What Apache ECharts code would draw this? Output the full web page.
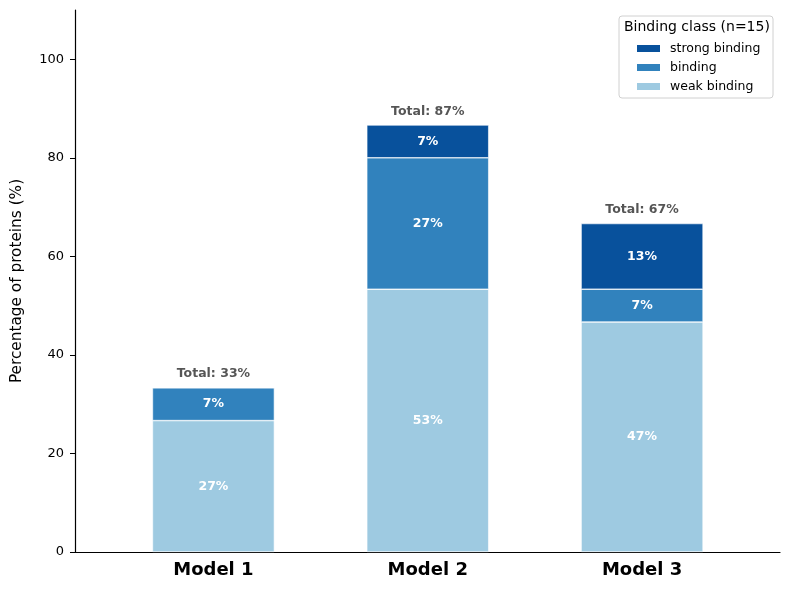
<!DOCTYPE html>
<html>
<head>
<meta charset="utf-8">
<script src="https://cdn.jsdelivr.net/npm/echarts@6/dist/echarts.min.js"></script>
<style>
  html, body { margin: 0; padding: 0; background: #fff; }
  #chart { width: 790px; height: 590px; }
</style>
</head>
<body>
<div id="chart"></div>
<script>
// 数据
const models = ['Model 1', 'Model 2', 'Model 3']
const weakBinding = [26.67, 53.33, 46.67]
const binding = [6.67, 26.67, 6.67]
const strongBinding = [0, 6.67, 13.33]
const yTicks = [0, 20, 40, 60, 80, 100]

const colors = { strong: '#08519c', binding: '#3182bd', weak: '#9ecae1' }
const FONT = 'DejaVu Sans'

var dom = document.getElementById('chart')
var myChart = echarts.init(dom, null, { renderer: 'canvas' })

// 堆叠柱子
function barSeries(name, values, color) {
    return {
        name: name,
        type: 'bar',
        stack: 'total',
        barWidth: 122,
        xAxisIndex: 0,
        yAxisIndex: 0,
        data: values,
        itemStyle: { color: color, borderColor: '#fff', borderWidth: 0.6 },
        label: {
            show: true,
            position: 'inside',
            color: '#fff',
            fontFamily: FONT,
            fontWeight: 'bold',
            fontSize: 12.5,
            formatter: function (p) {
                return p.value > 0 ? Math.round(p.value) + '%' : ''
            }
        },
        emphasis: { disabled: true }
    }
}

var totals = models.map(function (m, i) {
    return weakBinding[i] + binding[i] + strongBinding[i]
})

var axisText = { color: '#000', fontFamily: FONT }

var option = {
    animation: false,
    backgroundColor: '#fff',
    // grid 0 放柱子, grid 1 画坐标轴
    grid: [
        { left: 106.25, right: 40.75, top: 10, bottom: 38 },
        { left: 75, right: 10, top: 10, bottom: 38 }
    ],
    xAxis: [
        {
            type: 'category',
            gridIndex: 0,
            data: models,
            axisLine: { show: false },
            axisTick: { show: false },
            axisLabel: Object.assign({ fontWeight: 'bold', fontSize: 18, margin: 9 }, axisText)
        },
        {
            type: 'value',
            gridIndex: 1,
            min: 0,
            max: 1,
            splitLine: { show: false },
            axisLine: { show: true, onZero: false, lineStyle: { color: '#000', width: 1.2 } },
            axisTick: { show: false },
            axisLabel: { show: false }
        }
    ],
    yAxis: [
        {
            type: 'value',
            gridIndex: 0,
            min: 0,
            max: 110,
            show: false
        },
        {
            type: 'value',
            gridIndex: 1,
            min: 0,
            max: 110,
            name: 'Percentage of proteins (%)',
            nameLocation: 'middle',
            nameGap: 50,
            nameTextStyle: Object.assign({ fontSize: 15.3 }, axisText),
            splitLine: { show: false },
            axisLine: { show: true, onZero: false, lineStyle: { color: '#000', width: 1.2 } },
            axisTick: { show: true, length: 5, lineStyle: { color: '#000' }, customValues: yTicks },
            axisLabel: Object.assign({ fontSize: 13, margin: 11, customValues: yTicks }, axisText)
        }
    ],
    legend: {
        orient: 'vertical',
        left: 630,
        top: 37,
        itemWidth: 25,
        itemHeight: 9,
        itemGap: 6,
        icon: 'rect',
        data: ['strong binding', 'binding', 'weak binding'],
        textStyle: { color: '#000', fontFamily: FONT, fontSize: 12.5, padding: [0, 0, 0, 4] },
        selectedMode: false
    },
    graphic: [
        {
            type: 'rect',
            shape: { x: 619, y: 16, width: 154, height: 82, r: 3 },
            style: { fill: 'rgba(255,255,255,0.85)', stroke: '#d0d0d0', lineWidth: 1 },
            z: 0
        },
        {
            type: 'text',
            left: 624,
            top: 20,
            style: { text: 'Binding class (n=15)', fill: '#000', font: '14px "DejaVu Sans"' },
            z: 10
        }
    ],
    series: [
        barSeries('weak binding', weakBinding, colors.weak),
        barSeries('binding', binding, colors.binding),
        barSeries('strong binding', strongBinding, colors.strong),
        {
            name: 'totals',
            type: 'scatter',
            xAxisIndex: 0,
            yAxisIndex: 0,
            symbolSize: 0,
            data: totals,
            label: {
                show: true,
                position: 'top',
                distance: 7,
                color: '#2a2a2a',
                fontFamily: FONT,
                fontWeight: 'bold',
                fontSize: 12.5,
                formatter: function (p) { return 'Total: ' + Math.round(p.value) + '%' }
            },
            emphasis: { disabled: true },
            z: 5
        }
    ]
}

myChart.setOption(option, true)
</script>
</body>
</html>
